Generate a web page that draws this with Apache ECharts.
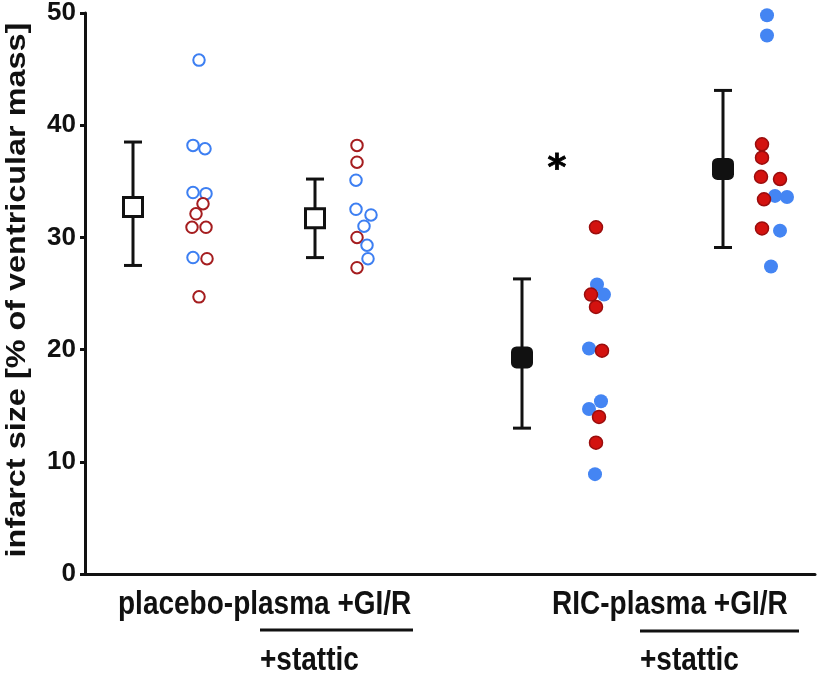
<!DOCTYPE html>
<html><head><meta charset="utf-8">
<script src="https://cdn.jsdelivr.net/npm/echarts@6/dist/echarts.min.js"></script>
<style>html,body{margin:0;padding:0;background:#fff}#c{width:819px;height:677px}</style>
</head><body><div id="c"></div>
<script>
// ---- data ----
const groupLabels = ['placebo-plasma +GI/R', 'RIC-plasma +GI/R'];
const subLabel = '+stattic';
const yTitle = 'infarct size [% of ventricular mass]';
const yMin = 0, yMax = 50, yStep = 10;
const meanX = [0.48, 2.30, 4.37, 6.38];
const meanY = [32.7, 31.7, 19.3, 36.1];
const lowY  = [27.5, 28.2, 13.0, 29.1];
const highY = [38.5, 35.2, 26.3, 43.1];
const placeboBlue = [[1.14,45.8],[1.08,38.2],[1.20,37.9],[1.08,34.0],[1.21,33.9],[1.08,28.2]];
const placeboRed  = [[1.18,33.0],[1.11,32.1],[1.07,30.9],[1.21,30.9],[1.22,28.1],[1.14,24.7]];
const placeboStatticBlue = [[2.71,35.1],[2.71,32.5],[2.86,32.0],[2.79,31.0],[2.82,29.3],[2.83,28.1]];
const placeboStatticRed  = [[2.72,38.2],[2.72,36.7],[2.72,30.0],[2.72,27.3]];
const ricBlue = [[5.12,25.8],[5.19,24.9],[5.04,20.1],[5.16,15.4],[5.04,14.7],[5.10,8.9]];
const ricRed  = [[5.11,30.9],[5.06,24.9],[5.11,23.8],[5.17,19.9],[5.14,14.0],[5.11,11.7]];
const ricStatticBlue = [[6.82,49.8],[6.82,48.0],[6.90,33.7],[7.02,33.6],[6.95,30.6],[6.86,27.4]];
const ricStatticRed  = [[6.77,38.3],[6.77,37.1],[6.76,35.4],[6.95,35.2],[6.79,33.4],[6.77,30.8]];
const asteriskPos = [[4.72, 36.0]];

// ---- chart ----
const FONT = '"Liberation Sans", Arial, sans-serif';
const chart = echarts.init(document.getElementById('c'));
const openBlue = {color:'#fff', borderColor:'#3d7ff2', borderWidth:2, opacity:1};
const openRed  = {color:'#fff', borderColor:'#a51d1f', borderWidth:2, opacity:1};
const fillBlue = {color:'#4485f3', borderColor:'#4485f3', borderWidth:0, opacity:1};
const fillRed  = {color:'#d3120f', borderColor:'#9a0d0d', borderWidth:1.5, opacity:1};
function sc(data, style, size) {
  return {type:'scatter', data, symbol:'circle', symbolSize:size, itemStyle:style,
          z:3, clip:false, silent:true, animation:false};
}
chart.setOption({
  animation:false,
  grid:{left:85, right:4, top:13, bottom:103, containLabel:false},
  xAxis:{type:'value', min:0, max:7.3, axisLine:{show:true, onZero:false, lineStyle:{color:'#111', width:3}},
         axisTick:{show:false}, axisLabel:{show:false}, splitLine:{show:false}},
  yAxis:{type:'value', min:yMin, max:yMax, interval:yStep,
         axisLine:{show:true, lineStyle:{color:'#111', width:3}},
         axisTick:{show:true, length:5, lineStyle:{color:'#111', width:3}},
         axisLabel:{color:'#111', fontSize:26, fontWeight:'bold', fontFamily:FONT, margin:9},
         splitLine:{show:false}},
  series:[
    {type:'custom', data: meanX.map((x,i)=>[x, lowY[i], highY[i]]), encode:{x:0, y:[1,2]}, z:2, silent:true,
     renderItem(params, api){
       const x = api.value(0);
       const pLo = api.coord([x, api.value(1)]), pHi = api.coord([x, api.value(2)]);
       const hw = 9, st = {stroke:'#111', lineWidth:3};
       return {type:'group', children:[
         {type:'line', shape:{x1:pLo[0], y1:pLo[1], x2:pHi[0], y2:pHi[1]}, style:st},
         {type:'line', shape:{x1:pLo[0]-hw, y1:pLo[1], x2:pLo[0]+hw, y2:pLo[1]}, style:st},
         {type:'line', shape:{x1:pHi[0]-hw, y1:pHi[1], x2:pHi[0]+hw, y2:pHi[1]}, style:st}
       ]};
     }},
    {type:'scatter', data: meanX.slice(0,2).map((x,i)=>[x, meanY[i]]), symbol:'rect', symbolSize:19, silent:true,
     itemStyle:{color:'#fff', borderColor:'#111', borderWidth:3, opacity:1}, z:4},
    {type:'scatter', data: meanX.slice(2).map((x,i)=>[x, meanY[i+2]]), symbol:'roundRect', symbolSize:22, silent:true,
     itemStyle:{color:'#111', opacity:1}, z:4},
    sc(placeboBlue, openBlue, 11.5), sc(placeboRed, openRed, 11.5),
    sc(placeboStatticRed, openRed, 11.5), sc(placeboStatticBlue, openBlue, 11.5),
    sc(ricBlue, fillBlue, 14), sc(ricRed, fillRed, 13),
    sc(ricStatticBlue, fillBlue, 14), sc(ricStatticRed, fillRed, 13),
    {type:'scatter', data: asteriskPos, symbolSize:0, z:5, silent:true, itemStyle:{opacity:1},
     label:{show:true, position:'inside', formatter:'*', color:'#000', fontSize:36, fontWeight:'bold',
            fontFamily:'"DejaVu Sans", sans-serif', textBorderColor:'#000', textBorderWidth:0.8}}
  ],
  graphic:[
    {type:'text', x:18, y:290, rotation:Math.PI/2, scaleX:1.2,
     style:{text:yTitle, fill:'#111', font:'bold 27px '+FONT, textAlign:'center', textVerticalAlign:'middle', verticalAlign:'middle'}},
    {type:'text', x:118, y:605, scaleY:1.18,
     style:{text:groupLabels[0], fill:'#111', font:'bold 28px '+FONT, textAlign:'left', textVerticalAlign:'middle', verticalAlign:'middle'}},
    {type:'text', x:260, y:661, scaleY:1.18,
     style:{text:subLabel, fill:'#111', font:'bold 28px '+FONT, textAlign:'left', textVerticalAlign:'middle', verticalAlign:'middle'}},
    {type:'line', shape:{x1:260, y1:630, x2:413, y2:630}, style:{stroke:'#111', lineWidth:3}},
    {type:'text', x:552, y:605, scaleY:1.18,
     style:{text:groupLabels[1], fill:'#111', font:'bold 28px '+FONT, textAlign:'left', textVerticalAlign:'middle', verticalAlign:'middle'}},
    {type:'text', x:640, y:661, scaleY:1.18,
     style:{text:subLabel, fill:'#111', font:'bold 28px '+FONT, textAlign:'left', textVerticalAlign:'middle', verticalAlign:'middle'}},
    {type:'line', shape:{x1:640, y1:631, x2:799, y2:631}, style:{stroke:'#111', lineWidth:3}}
  ]
});
</script></body></html>
